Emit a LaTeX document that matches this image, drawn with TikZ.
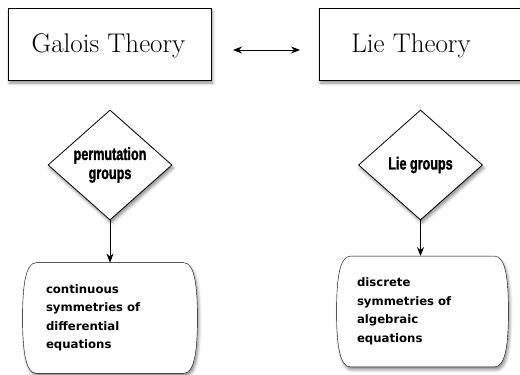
\documentclass[tikz,border=0pt]{standalone}
\usepackage{fontspec}
\usetikzlibrary{shapes.geometric,shadows.blur,arrows.meta,backgrounds}
\newfontfamily\impactfont[FakeStretch=0.72,FakeBold=1.6]{Liberation Sans}
\newfontfamily\boxfont{DejaVu Sans}
\newcommand\capsulepath[1]{%
 \path[draw,fill=white,sh] ([xshift=14pt]#1.north west) -- ([xshift=-14pt]#1.north east)
  .. controls ([xshift=-3pt]#1.north east) and ([yshift=-22pt]#1.north east) .. (#1.east)
  .. controls ([yshift=22pt]#1.south east) and ([xshift=-3pt]#1.south east) .. ([xshift=-14pt]#1.south east)
  -- ([xshift=14pt]#1.south west)
  .. controls ([xshift=3pt]#1.south west) and ([yshift=22pt]#1.south west) .. (#1.west)
  .. controls ([yshift=-22pt]#1.north west) and ([xshift=3pt]#1.north west) .. ([xshift=14pt]#1.north west) -- cycle;}
\begin{document}
\begin{tikzpicture}[x=1pt,y=-1pt,line width=0.8pt,
 sh/.style={blur shadow={shadow xshift=1.5pt, shadow yshift=-3pt, shadow blur radius=3pt, shadow opacity=45}},
 titlebox/.style={draw, fill=white, sh, minimum width=203pt, minimum height=72pt, inner sep=0pt},
 titletext/.style={font=\fontsize{27}{30}\selectfont},
 decision/.style={diamond, draw, fill=white, sh, minimum width=124pt, minimum height=110pt, inner sep=0pt, align=center, font=\impactfont\bfseries\fontsize{17.5}{19}\selectfont},
 capsule/.style={minimum height=110pt, inner sep=0pt, align=left, font=\boxfont\bfseries\fontsize{11.7}{18.5}\selectfont},
 arr/.style={-{Stealth[length=9pt,width=7pt]}},
 darr/.style={{Stealth[length=9pt,width=7pt]}-{Stealth[length=9pt,width=7pt]}}]
\useasboundingbox (0,0) rectangle (520,375);
\begin{scope}
\clip (0,0) rectangle (520,375);
% title boxes
\node[titlebox] (gbox) at (109.5,44) {};
\node[titletext] (gtxt) at (108.5,46) {Galois Theory};
\node[titlebox] (lbox) at (420.5,44) {};
\node[titletext] (ltxt) at (411,46) {Lie Theory};
\coordinate (al) at (233,50);
\coordinate (ar) at (300,50);
\draw[darr] (al) -- (ar);
% diamonds
\node[decision] (d1) at (110,165) {permutation\\groups};
\node[decision] (d2) at (420.5,165) {Lie groups};
% capsules
\node[capsule, minimum width=174pt, text width=128pt] (c1) at (110,318) {\raisebox{-2pt}{\parbox{128pt}{continuous\\symmetries of\\differential\\equations}}};
\node[capsule, minimum width=171pt, text width=131pt] (c2) at (422.5,311.5) {discrete\\symmetries of\\algebraic\\equations};
\begin{scope}[on background layer]
\capsulepath{c1}
\capsulepath{c2}
\end{scope}
\draw[arr] (d1.south) -- (c1.north);
\draw[arr] (d2.south) -- (d2.south |- c2.north);
\end{scope}
\end{tikzpicture}
\end{document}
